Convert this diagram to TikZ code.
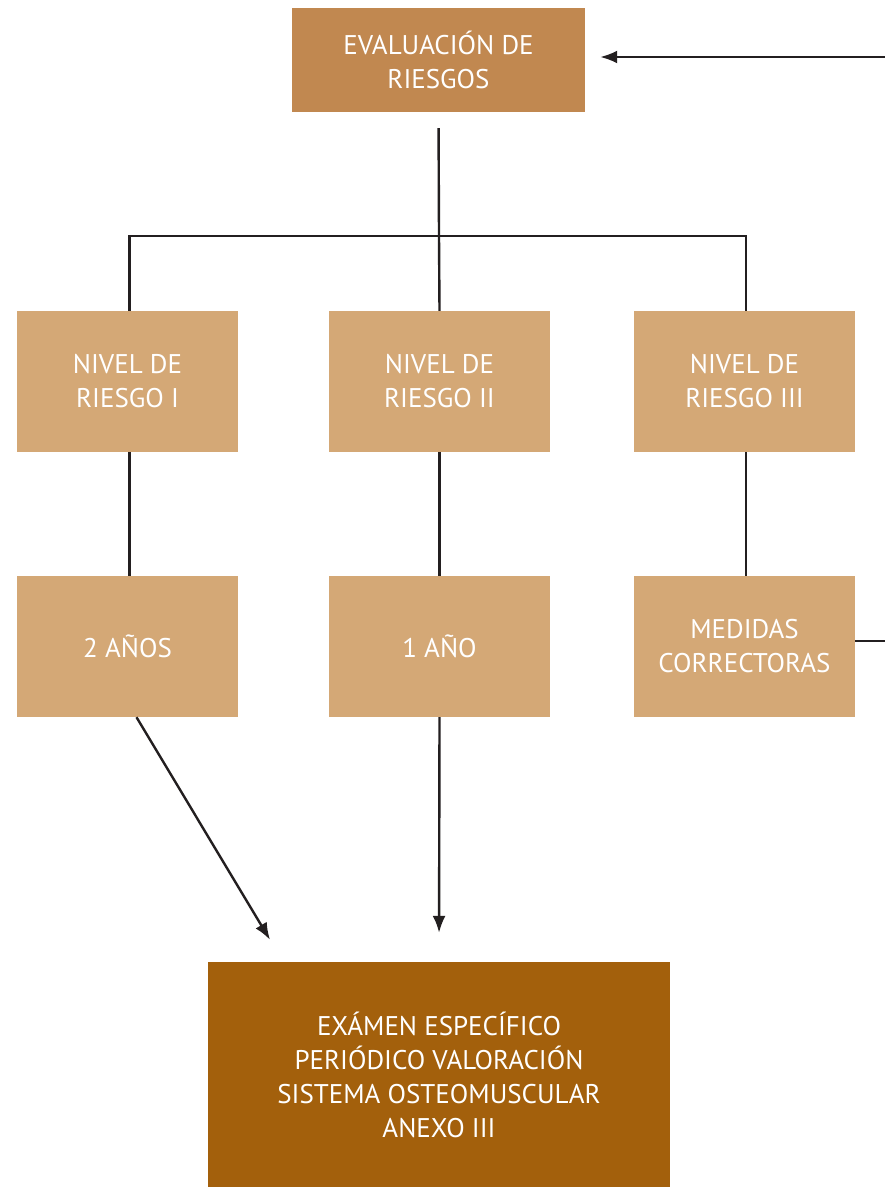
\documentclass[tikz,border=0pt]{standalone}
\usepackage{fontspec}
\setmainfont{PT Sans}
\usepackage{tikz}
\usetikzlibrary{arrows.meta,calc,positioning}
\definecolor{rkbrown}{RGB}{193,136,80}
\definecolor{rktan}{RGB}{212,168,118}
\definecolor{rkdark}{RGB}{163,96,12}
\definecolor{rkline}{RGB}{35,31,32}

\begin{document}
\begin{tikzpicture}[x=1pt,y=-1pt,
    font=\fontsize{27}{34}\selectfont,
    box/.style={fill=rktan,text=white,align=center,minimum width=221pt,minimum height=141pt,inner sep=0pt},
    link/.style={draw=rkline,line width=2.4pt},
    arr/.style={link,-{Latex[length=17pt,width=13pt]}}]
  \useasboundingbox (0,0) rectangle (884,1188);
  % boxes
  \node[box,fill=rkbrown,minimum width=293pt,minimum height=104pt] (eval) at (438.5,60) {EVALUACIÓN DE\\RIESGOS};
  \node[box] (niv1) at (127.5,381.5) {NIVEL DE\\RIESGO I};
  \node[box] (niv2) at (439.5,381.5) {NIVEL DE\\RIESGO II};
  \node[box] (niv3) at (744.5,381.5) {NIVEL DE\\RIESGO III};
  \node[box] (anos2) at (127.5,646.5) {2 AÑOS};
  \node[box] (ano1) at (439.5,646.5) {1 AÑO};
  \node[box] (medidas) at (744.5,646.5) {MEDIDAS\\CORRECTORAS};
  \node[box,fill=rkdark,minimum width=462pt,minimum height=225pt] (exam) at (439,1074.5)
    {EXÁMEN ESPECÍFICO\\PERIÓDICO VALORACIÓN\\SISTEMA OSTEOMUSCULAR\\ANEXO III};
  \coordinate (split) at (439,236);
  \coordinate (back) at (892,641);
  % tree
  \draw[link,shorten <=16pt] (eval.south) -- (split) -- (niv2.north);
  \draw[link] ([xshift=2pt]niv1.north) |- (split) -| ([xshift=1.5pt]niv3.north);
  \draw[link] ([xshift=2pt]niv1.south) -- ([xshift=2pt]anos2.north);
  \draw[link] (niv2) -- (ano1);
  \draw[link] ([xshift=1.5pt]niv3.south) -- ([xshift=1.5pt]medidas.north);
  % to exam
  \draw[arr] ([xshift=9pt]anos2.south) -- ([xshift=-169pt,yshift=22pt]exam.north);
  \draw[arr,shorten >=29pt] (ano1.south) -- (exam.north);
  % feedback
  \draw[arr,shorten >=15pt] (medidas.east |- back) -- (back) |- ([yshift=3pt]eval.east);
\end{tikzpicture}
\end{document}
